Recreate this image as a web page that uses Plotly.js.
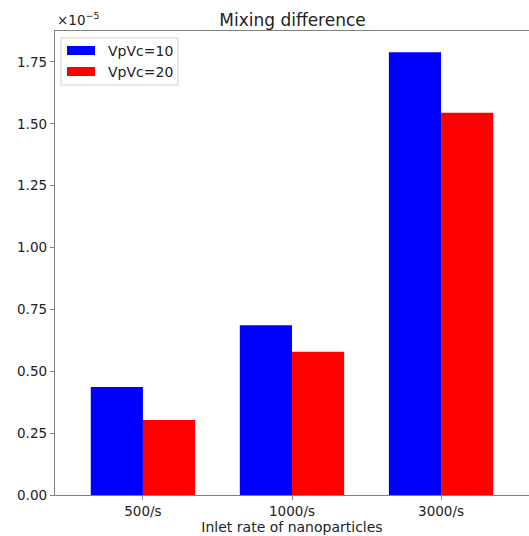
<!DOCTYPE html>
<html>
<head>
<meta charset="utf-8">
<script src="https://cdn.plot.ly/plotly-3.0.1.min.js"></script>
<style>html,body{margin:0;padding:0;background:#fff;}#chart{width:529px;height:536px;}</style>
</head>
<body>
<div id="chart"></div>
<script>
const categories = ["500/s", "1000/s", "3000/s"];
const seriesNames = ["VpVc=10", "VpVc=20"];
const seriesColors = ["#0000ff", "#ff0000"];
const vpvc10 = [0.436, 0.686, 1.789];
const vpvc20 = [0.303, 0.579, 1.545];
const yTicks = [0, 0.25, 0.5, 0.75, 1.0, 1.25, 1.5, 1.75];
const font = "DejaVu Sans, sans-serif";

const traces = [
  {type: "bar", name: seriesNames[0], x: categories, y: vpvc10, marker: {color: seriesColors[0]}, showlegend: false},
  {type: "bar", name: seriesNames[1], x: categories, y: vpvc20, marker: {color: seriesColors[1]}, showlegend: false}
];

// custom matplotlib-style legend (paper coordinates)
const legendShapes = [
  {type: "rect", xref: "paper", yref: "paper", x0: 0.0127, x1: 0.2595, y0: 0.8836, y1: 0.985,
   line: {color: "#d0d0d0", width: 1}, fillcolor: "rgba(255,255,255,0.8)", layer: "above"},
  {type: "rect", xref: "paper", yref: "paper", x0: 0.0253, x1: 0.0844, y0: 0.9483, y1: 0.9677,
   line: {width: 0}, fillcolor: seriesColors[0], layer: "above"},
  {type: "rect", xref: "paper", yref: "paper", x0: 0.0253, x1: 0.0844, y0: 0.903, y1: 0.9224,
   line: {width: 0}, fillcolor: seriesColors[1], layer: "above"}
];
const legendTexts = [
  {text: seriesNames[0], xref: "paper", yref: "paper", x: 0.1076, y: 0.9569, xanchor: "left", yanchor: "middle",
   showarrow: false, font: {family: font, size: 14, color: "#222"}},
  {text: seriesNames[1], xref: "paper", yref: "paper", x: 0.1076, y: 0.9116, xanchor: "left", yanchor: "middle",
   showarrow: false, font: {family: font, size: 14, color: "#222"}}
];

const layout = {
  width: 529, height: 536,
  margin: {l: 55, r: 0, t: 31, b: 41},
  paper_bgcolor: "#fff", plot_bgcolor: "#fff",
  barmode: "group", bargap: 0.3, bargroupgap: 0,
  showlegend: false,
  font: {family: font, color: "#222", size: 13},
  title: {text: "Mixing difference", font: {family: font, size: 17, color: "#222"}, x: 0.553, xanchor: "center", y: 0.962, yanchor: "middle"},
  xaxis: {
    range: [-0.59, 2.59], showgrid: false, zeroline: false,
    showline: true, linecolor: "#808080", linewidth: 1.2, mirror: true,
    ticks: "outside", ticklen: 4, tickcolor: "#808080",
    tickfont: {family: font, size: 13.5, color: "#222"},
    title: {text: "Inlet rate of nanoparticles", font: {family: font, size: 14, color: "#222"}, standoff: 1}
  },
  yaxis: {
    range: [0, 1.875], showgrid: false, zeroline: false,
    showline: true, linecolor: "#808080", linewidth: 1.2, mirror: true,
    ticks: "outside", ticklen: 4, tickcolor: "#808080",
    tickvals: yTicks, tickformat: ".2f",
    tickfont: {family: font, size: 13.5, color: "#222"}
  },
  shapes: legendShapes,
  annotations: legendTexts.concat([{
    text: "×10<sup>−5</sup>", xref: "paper", yref: "paper", x: 0, y: 1, xanchor: "left", yanchor: "bottom",
    yshift: 1, showarrow: false, font: {family: font, size: 13.5, color: "#222"}
  }])
};

Plotly.newPlot("chart", traces, layout, {displayModeBar: false, staticPlot: true});
</script>
</body>
</html>
